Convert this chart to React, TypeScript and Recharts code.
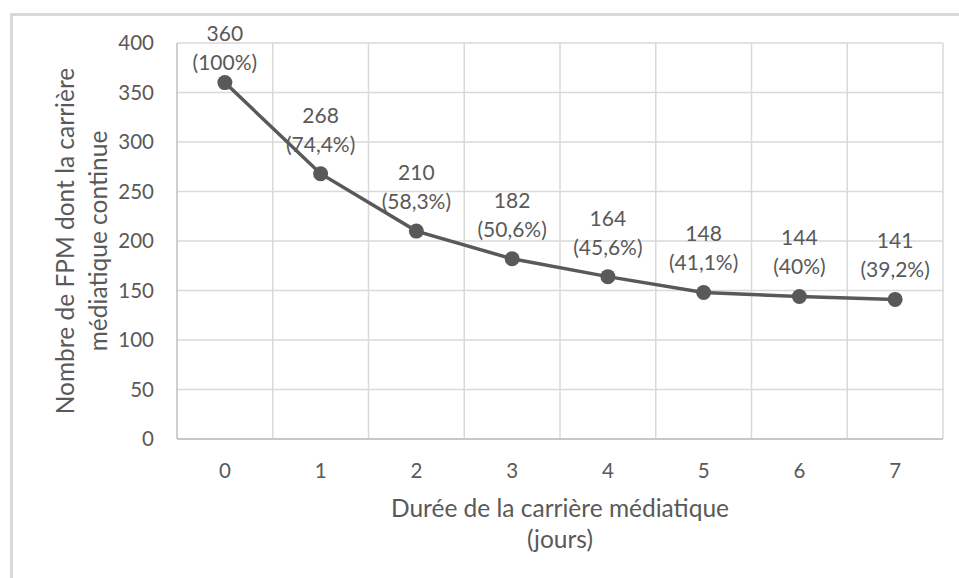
import React from "react";
import { LineChart, Line, XAxis, YAxis, CartesianGrid, ReferenceLine, Label } from "recharts";

const days = [0, 1, 2, 3, 4, 5, 6, 7];
const counts = [360, 268, 210, 182, 164, 148, 144, 141];
const percents = ["100%", "74,4%", "58,3%", "50,6%", "45,6%", "41,1%", "40%", "39,2%"];
const yTicks = [0, 50, 100, 150, 200, 250, 300, 350, 400];
const xTitle = ["Durée de la carrière médiatique", "(jours)"];
const yTitle = ["Nombre de FPM dont la carrière", "médiatique continue"];

const data = days.map((d, i) => ({ day: d, count: counts[i], pct: percents[i] }));
const boundaries = days.map((d) => d + 0.5);

const TEXT = "#595959";
const FONT = "Lato, 'Open Sans', sans-serif";

const renderPointLabel = (props: any) => {
  const { x, y, index } = props;
  const line1 = Math.max(y - 51, 41);
  const line2 = line1 + 29;
  return (
    <text x={x} textAnchor="middle" fill={TEXT} fontSize={21} fontFamily={FONT}>
      <tspan x={x} y={line1}>{counts[index]}</tspan>
      <tspan x={x} y={line2}>({percents[index]})</tspan>
    </text>
  );
};

const XTitle = (props: any) => {
  const vb = props.viewBox;
  const cx = vb.x + vb.width / 2;
  return (
    <text textAnchor="middle" fill={TEXT} fontSize={24.5} fontFamily={FONT}>
      <tspan x={cx} y={vb.y + 78}>{xTitle[0]}</tspan>
      <tspan x={cx} y={vb.y + 109}>{xTitle[1]}</tspan>
    </text>
  );
};

const YTitle = (props: any) => {
  const vb = props.viewBox;
  const cy = vb.y + vb.height / 2;
  return (
    <g>
      <text transform={`translate(74, ${cy}) rotate(-90)`} textAnchor="middle" fill={TEXT} fontSize={24.5} fontFamily={FONT}>
        {yTitle[0]}
      </text>
      <text transform={`translate(107, ${cy}) rotate(-90)`} textAnchor="middle" fill={TEXT} fontSize={24.5} fontFamily={FONT}>
        {yTitle[1]}
      </text>
    </g>
  );
};

export default function App() {
  return (
    <div style={{ position: "absolute", left: 0, top: 0, width: 959, height: 578, overflow: "hidden", background: "#fff" }}>
      <div
        style={{
          position: "absolute",
          left: 10,
          top: 13,
          width: 1000,
          height: 700,
          borderTop: "3px solid #d9d9d9",
          borderLeft: "3px solid #d9d9d9",
        }}
      />
      <div style={{ position: "absolute", left: 0, top: 0 }}>
        <LineChart width={959} height={578} data={data} margin={{ top: 43, right: 16, bottom: 0, left: 117 }} style={{ fontFamily: FONT }}>
          <CartesianGrid vertical={false} stroke="#d9d9d9" strokeWidth={1.5} />
          {boundaries.map((b) => (
            <ReferenceLine key={b} x={b} stroke="#d9d9d9" strokeWidth={1.5} />
          ))}
          <XAxis
            dataKey="day"
            type="number"
            domain={[-0.5, 7.5]}
            ticks={days}
            height={139}
            tickLine={false}
            tickMargin={18}
            axisLine={{ stroke: "#bfbfbf", strokeWidth: 1.5 }}
            tick={{ fill: TEXT, fontSize: 20.5, fontFamily: FONT }}
            interval={0}
          >
            <Label content={XTitle} />
          </XAxis>
          <YAxis
            type="number"
            domain={[0, 400]}
            ticks={yTicks}
            width={60}
            tickLine={false}
            tickMargin={17}
            axisLine={{ stroke: "#bfbfbf", strokeWidth: 1.5 }}
            tick={{ fill: TEXT, fontSize: 20.5, fontFamily: FONT }}
            interval={0}
          >
            <Label content={YTitle} />
          </YAxis>
          <Line
            type="linear"
            dataKey="count"
            stroke="#595959"
            strokeWidth={3.5}
            dot={{ r: 7.5, fill: "#595959", stroke: "#595959", strokeWidth: 0 }}
            activeDot={false}
            isAnimationActive={false}
            label={renderPointLabel}
          />
        </LineChart>
      </div>
    </div>
  );
}
